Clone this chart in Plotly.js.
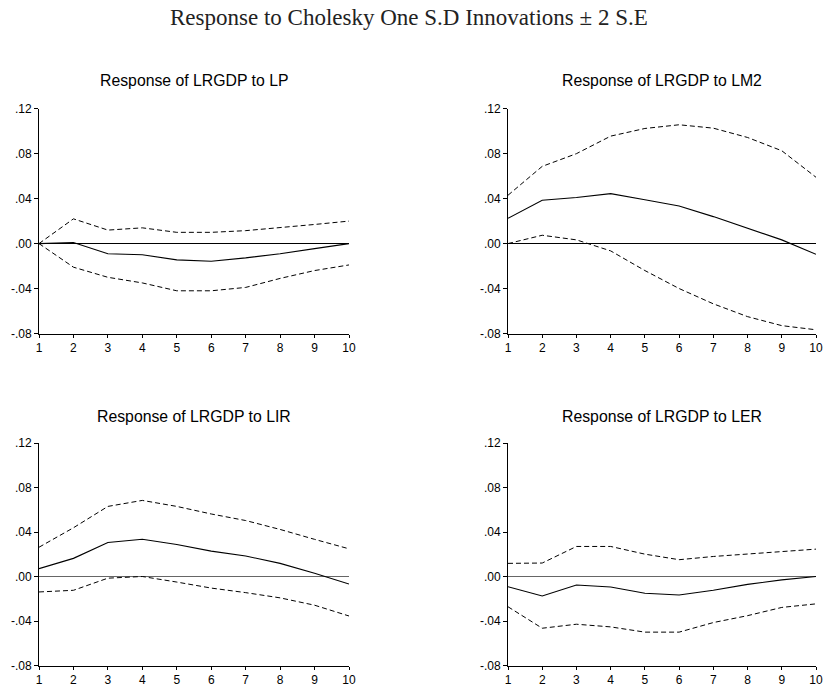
<!DOCTYPE html>
<html>
<head>
<meta charset="utf-8">
<script src="https://cdn.plot.ly/plotly-3.0.1.min.js"></script>
<style>html,body{margin:0;padding:0;background:#fff;}#chart{width:824px;height:687px;}</style>
</head>
<body>
<div id="chart"></div>
<script>
const horizon = [1, 2, 3, 4, 5, 6, 7, 8, 9, 10];

const lpResp  = [0.000, 0.001, -0.009, -0.010, -0.0145, -0.0157, -0.0127, -0.009, -0.0045, 0.000];
const lpUpper = [0.000, 0.022, 0.012, 0.014, 0.010, 0.010, 0.0115, 0.014, 0.017, 0.020];
const lpLower = [0.000, -0.021, -0.030, -0.035, -0.042, -0.042, -0.039, -0.031, -0.024, -0.019];

const lm2Resp  = [0.0225, 0.0385, 0.041, 0.0444, 0.039, 0.0335, 0.024, 0.0136, 0.0033, -0.0095];
const lm2Upper = [0.043, 0.0687, 0.080, 0.0956, 0.1024, 0.1057, 0.1027, 0.0944, 0.0826, 0.059];
const lm2Lower = [0.000, 0.0074, 0.0033, -0.0065, -0.024, -0.040, -0.0536, -0.065, -0.073, -0.0767];

const lirResp  = [0.0071, 0.0163, 0.0305, 0.0335, 0.0287, 0.0228, 0.0184, 0.0118, 0.003, -0.0068];
const lirUpper = [0.0263, 0.0438, 0.063, 0.0684, 0.063, 0.0562, 0.0503, 0.0423, 0.0334, 0.0249];
const lirLower = [-0.0139, -0.0124, -0.0015, 0.000, -0.005, -0.0104, -0.0145, -0.0192, -0.0258, -0.0355];

const lerResp  = [-0.0092, -0.0175, -0.0077, -0.0095, -0.0151, -0.0166, -0.0124, -0.0071, -0.003, 0.000];
const lerUpper = [0.0118, 0.0121, 0.027, 0.027, 0.0201, 0.0151, 0.018, 0.0204, 0.0225, 0.0246];
const lerLower = [-0.0272, -0.0465, -0.0429, -0.0453, -0.050, -0.050, -0.0414, -0.0352, -0.0278, -0.0246];

const yTickVals = [-0.08, -0.04, 0.00, 0.04, 0.08, 0.12];
const yTickText = ['-.08', '-.04', '.00', '.04', '.08', '.12'];
const xTickText = ['1', '2', '3', '4', '5', '6', '7', '8', '9', '10'];

const panelTitles = ['Response of LRGDP to LP', 'Response of LRGDP to LM2',
                     'Response of LRGDP to LIR', 'Response of LRGDP to LER'];
const mainTitle = 'Response to Cholesky One S.D Innovations \u00B1 2 S.E';

const panels = [
  {resp: lpResp, up: lpUpper, lo: lpLower},
  {resp: lm2Resp, up: lm2Upper, lo: lm2Lower},
  {resp: lirResp, up: lirUpper, lo: lirLower},
  {resp: lerResp, up: lerUpper, lo: lerLower}
];

const W = 824, H = 687;
const xDom = [[39 / W, 349 / W], [508 / W, 816 / W]];
const yDom = [[1 - 333.5 / H, 1 - 108.7 / H], [1 - 665.5 / H, 1 - 443 / H]];
const zeroColors = ['#000000', '#000000', '#666666', '#666666'];

const data = [];
const layout = {
  width: W, height: H,
  margin: {l: 0, r: 0, t: 0, b: 0},
  paper_bgcolor: '#ffffff', plot_bgcolor: '#ffffff',
  showlegend: false,
  font: {family: 'Liberation Sans, Arial, sans-serif', size: 12, color: '#000'},
  annotations: [{
    text: mainTitle, xref: 'paper', yref: 'paper', x: 409 / W, y: 1 - 17 / H,
    xanchor: 'center', yanchor: 'middle', showarrow: false,
    font: {family: 'Liberation Serif, Times New Roman, serif', size: 23, color: '#222'}
  }]
};

panels.forEach((p, i) => {
  const n = i + 1;
  const xa = n === 1 ? 'x' : 'x' + n;
  const ya = n === 1 ? 'y' : 'y' + n;
  const col = i % 2, row = Math.floor(i / 2);
  data.push({x: horizon, y: p.resp, xaxis: xa, yaxis: ya, mode: 'lines',
             line: {color: '#000', width: 1.1}, hoverinfo: 'skip'});
  data.push({x: horizon, y: p.up, xaxis: xa, yaxis: ya, mode: 'lines',
             line: {color: '#000', width: 1, dash: '5px,3px'}, hoverinfo: 'skip'});
  data.push({x: horizon, y: p.lo, xaxis: xa, yaxis: ya, mode: 'lines',
             line: {color: '#000', width: 1, dash: '5px,3px'}, hoverinfo: 'skip'});
  layout['xaxis' + (n === 1 ? '' : n)] = {
    domain: xDom[col], anchor: ya, range: [1, 10],
    tickvals: horizon, ticktext: xTickText,
    showgrid: false, zeroline: false, showline: true, linecolor: '#000', linewidth: 1,
    ticks: 'outside', ticklen: 3, tickcolor: '#000', tickwidth: 1,
    tickfont: {size: 12, color: '#000'}, fixedrange: true
  };
  layout['yaxis' + (n === 1 ? '' : n)] = {
    domain: yDom[row], anchor: xa, range: [-0.08, 0.12],
    tickvals: yTickVals, ticktext: yTickText,
    showgrid: false, zeroline: true, zerolinecolor: zeroColors[i], zerolinewidth: 1.3,
    showline: true, linecolor: '#000', linewidth: 1,
    ticks: 'outside', ticklen: 4, tickcolor: '#000', tickwidth: 1,
    tickfont: {size: 12, color: '#000'}, fixedrange: true
  };
  const cx = (col === 0 ? (39 + 349) / 2 : (508 + 816) / 2) / W;
  const cy = row === 0 ? 1 - 81 / H : 1 - 416 / H;
  layout.annotations.push({
    text: panelTitles[i], xref: 'paper', yref: 'paper', x: cx, y: cy,
    xanchor: 'center', yanchor: 'middle', showarrow: false,
    font: {family: 'Liberation Sans, Arial, sans-serif', size: 15.8, color: '#000'}
  });
});

Plotly.newPlot('chart', data, layout, {staticPlot: true, displayModeBar: false});
</script>
</body>
</html>
